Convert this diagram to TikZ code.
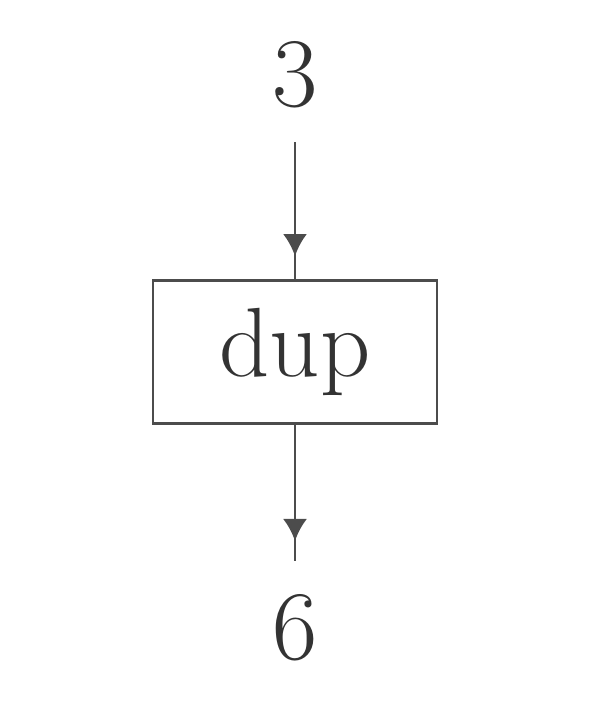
\documentclass[tikz,border=0pt]{standalone}
\usepackage{tikz}
\usetikzlibrary{arrows.meta,decorations.markings}

\begin{document}
\begin{tikzpicture}[
    lbl/.style={font=\fontsize{28}{34}\selectfont, text=black!80, inner sep=0.33cm},
    opbox/.style={draw=black!70, line width=0.8pt, rectangle, minimum width=2.84cm, minimum height=1.43cm, font=\fontsize{28}{34}\selectfont, text=black!80},
    flow/.style={draw=black!70, line width=0.8pt, postaction={decorate},
        decoration={markings, mark=at position #1 with {\arrow{Latex[length=0.22cm,width=0.24cm]}}}}
  ]
\useasboundingbox (0,0) rectangle (6.05,-7.07);
\node[lbl](three) at (2.95,-0.75){3};
\node[opbox](dup) at (2.95,-3.52){dup};
\node[lbl](six) at (2.95,-6.28){6};
\draw[flow=-0.23cm] (three) -- (dup);
\draw[flow=-0.2cm] (dup) -- (six);
\end{tikzpicture}
\end{document}
